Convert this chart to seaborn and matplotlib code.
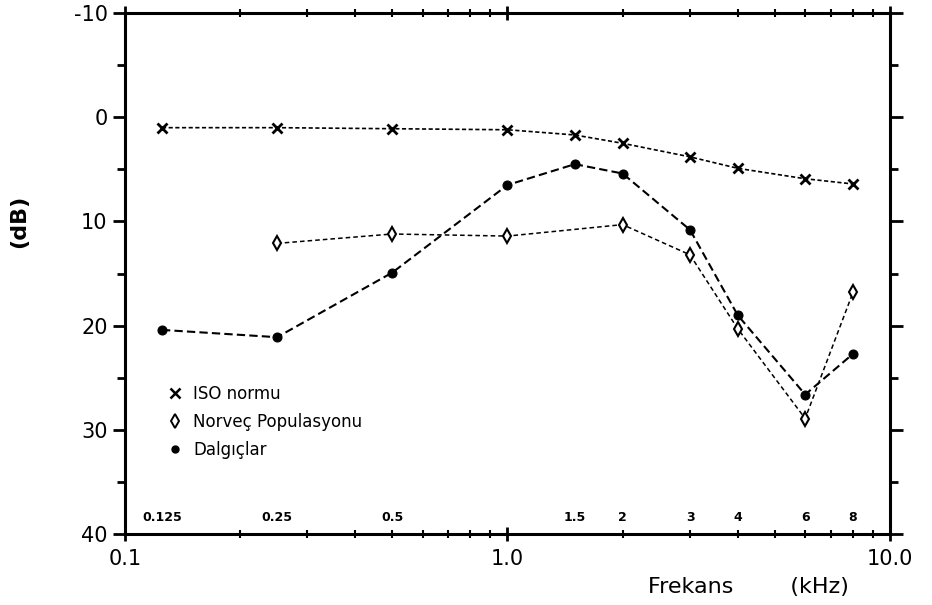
import matplotlib
matplotlib.use("Agg")
import matplotlib.pyplot as plt
import seaborn as sns
import pandas as pd
import numpy as np
from matplotlib.lines import Line2D
from matplotlib.ticker import FixedLocator, NullFormatter, LogLocator
import matplotlib.transforms as mtransforms

# ---- data ----
freq_iso = [0.125, 0.25, 0.5, 1.0, 1.5, 2, 3, 4, 6, 8]
iso_db = [1.0, 1.0, 1.1, 1.2, 1.7, 2.5, 3.8, 4.9, 5.9, 6.4]

freq_nor = [0.25, 0.5, 1.0, 2, 3, 4, 6, 8]
nor_db = [12.1, 11.2, 11.4, 10.3, 13.2, 20.3, 28.9, 16.8]

freq_dal = [0.125, 0.25, 0.5, 1.0, 1.5, 2, 3, 4, 6, 8]
dal_db = [20.4, 21.1, 14.9, 6.5, 4.5, 5.4, 10.8, 19.0, 26.6, 22.7]

freq_labels = [0.125, 0.25, 0.5, 1.5, 2, 3, 4, 6, 8]
freq_label_text = ["0.125", "0.25", "0.5", "1.5", "2", "3", "4", "6", "8"]

y_ticks = [-10, 0, 10, 20, 30, 40]
x_major = [0.1, 1.0, 10.0]
x_major_text = ["0.1", "1.0", "10.0"]

series_names = ["ISO normu", "Norveç Populasyonu", "Dalgıçlar"]

sns.set_style("ticks")
plt.rcParams['font.family'] = ['DejaVu Sans']
plt.rcParams['text.color'] = 'black'
plt.rcParams['axes.labelcolor'] = 'black'
plt.rcParams['xtick.color'] = 'black'
plt.rcParams['ytick.color'] = 'black'

fig = plt.figure(figsize=(9.32, 6.05), dpi=100)
ax = fig.add_axes([0.134, 0.117, 0.821, 0.8615])

df_iso = pd.DataFrame({"f": freq_iso, "db": iso_db})
df_nor = pd.DataFrame({"f": freq_nor, "db": nor_db})
df_dal = pd.DataFrame({"f": freq_dal, "db": dal_db})

sns.lineplot(data=df_iso, x="f", y="db", ax=ax, color="black", lw=1.2,
             marker="x", markersize=7, markeredgewidth=2.0,
             markeredgecolor="black", linestyle=(0, (2.5, 1.5)))
sns.lineplot(data=df_nor, x="f", y="db", ax=ax, color="black", lw=1.1,
             marker="d", markersize=7.5, markerfacecolor="white",
             markeredgecolor="black", markeredgewidth=1.5,
             linestyle=(0, (3, 2)))
sns.lineplot(data=df_dal, x="f", y="db", ax=ax, color="black", lw=1.5,
             marker="o", markersize=6.5, markerfacecolor="black",
             markeredgecolor="black", linestyle=(0, (4, 2)))

ax.set_xscale("log")
ax.set_xlim(0.1, 10.0)
ax.set_ylim(40, -10)

# y ticks
ax.set_yticks(y_ticks)
ax.set_yticklabels([str(v) for v in y_ticks], fontsize=15)
ax.yaxis.set_minor_locator(FixedLocator([-5, 5, 15, 25, 35]))
ax.tick_params(axis="y", which="major", direction="out", length=9, width=2,
               right=True, left=True)
ax.tick_params(axis="y", which="minor", direction="out", length=6, width=2,
               right=True, left=True)

# x ticks
ax.set_xticks(x_major)
ax.set_xticklabels(x_major_text, fontsize=15)
ax.xaxis.set_minor_locator(LogLocator(base=10, subs=np.arange(2, 10)))
ax.xaxis.set_minor_formatter(NullFormatter())
ax.tick_params(axis="x", which="major", direction="inout", length=10, width=2,
               top=True, bottom=True, pad=6)
ax.tick_params(axis="x", which="minor", direction="inout", length=6, width=1.5,
               top=True, bottom=True)

for s in ax.spines.values():
    s.set_visible(True)
    s.set_linewidth(2.2)
    s.set_color("black")

# frequency labels just above the bottom axis
trans = mtransforms.blended_transform_factory(ax.transData, ax.transAxes)
for f, t in zip(freq_labels, freq_label_text):
    ax.text(f, 0.02, t, transform=trans, ha="center", va="bottom",
            fontsize=9, fontweight="bold")

ax.set_xlabel("Frekans        (kHz)", fontsize=16)
ax.xaxis.set_label_coords(0.815, -0.083)
ax.set_ylabel("(dB)", fontsize=16, fontweight="bold")
ax.yaxis.set_label_coords(-0.125, 0.6)

handles = [
    Line2D([], [], color="black", marker="x", linestyle="none",
           markersize=7, markeredgewidth=1.8),
    Line2D([], [], color="black", marker="d", linestyle="none",
           markersize=7, markerfacecolor="white", markeredgewidth=1.4),
    Line2D([], [], color="black", marker="o", linestyle="none",
           markersize=5),
]
ax.legend(handles, series_names, loc="upper left",
          bbox_to_anchor=(0.035, 0.316), frameon=False, fontsize=12,
          handlelength=1.0, handletextpad=0.6, labelspacing=0.62)

ax.grid(False)
fig.savefig("out.png", dpi=100)
